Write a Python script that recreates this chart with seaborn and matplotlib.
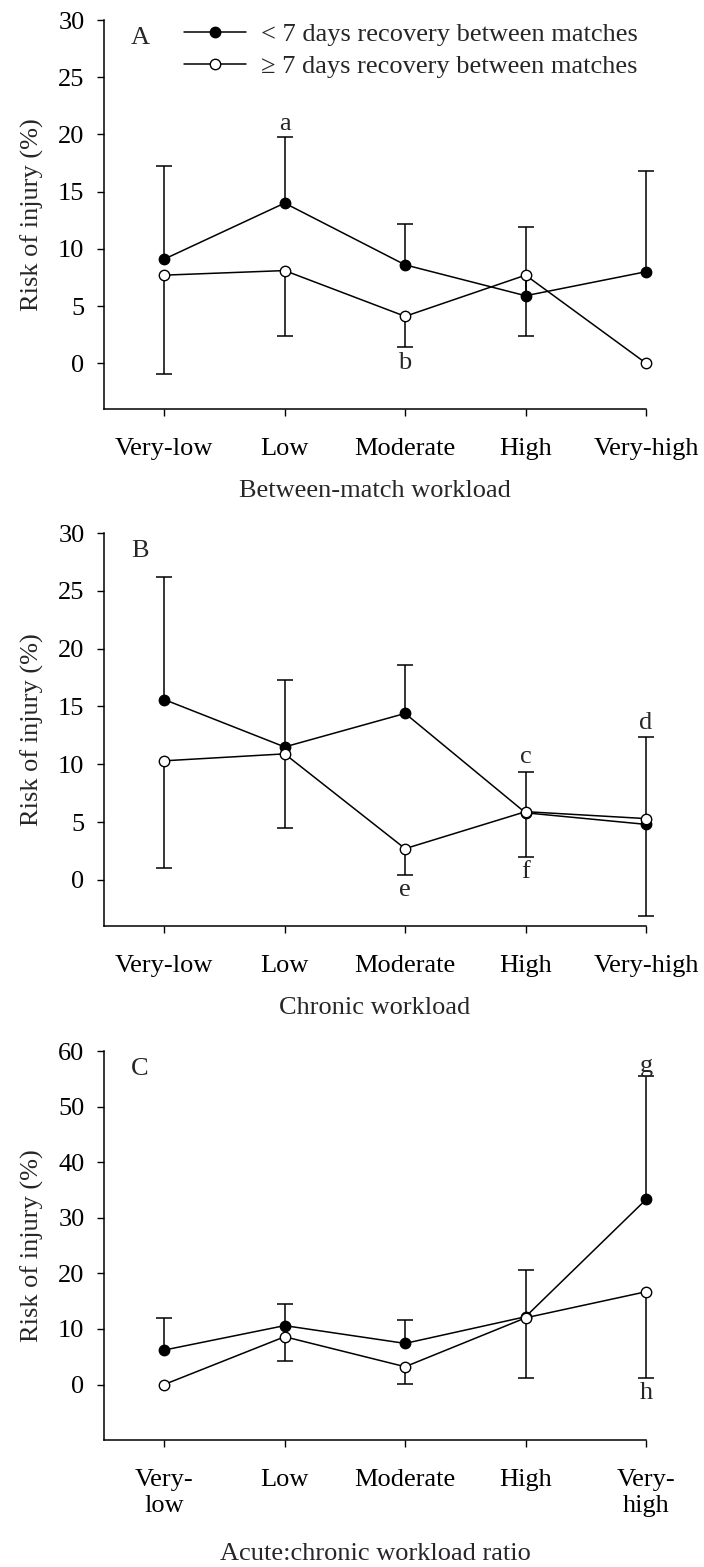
import numpy as np
import pandas as pd
import matplotlib
matplotlib.use('Agg')
import matplotlib.pyplot as plt
import seaborn as sns

levels = ['Very-low', 'Low', 'Moderate', 'High', 'Very-high']
levels_c = ['Very-\nlow', 'Low', 'Moderate', 'High', 'Very-\nhigh']

# A - between-match workload
a_short = [9.1, 14.0, 8.6, 5.9, 8.0]
a_short_up = [17.2, 19.8, 12.2, 11.9, 16.8]
a_long = [7.7, 8.1, 4.1, 7.7, 0.0]
a_long_low = [-0.9, 2.4, 1.4, 2.4, 0.0]

# B - chronic workload
b_short = [15.6, 11.5, 14.4, 5.8, 4.8]
b_short_up = [26.2, 17.3, 18.6, 9.3, 12.4]
b_long = [10.3, 10.9, 2.7, 5.9, 5.3]
b_long_low = [1.0, 4.5, 0.4, 2.0, -3.1]

# C - acute:chronic workload ratio
c_short = [6.2, 10.6, 7.4, 12.2, 33.3]
c_short_up = [12.0, 14.5, 11.7, 20.6, 55.5]
c_long = [0.0, 8.6, 3.2, 12.0, 16.7]
c_long_low = [0.0, 4.3, 0.1, 1.2, 1.2]

# significance letters: (level index, y, letter)
a_letters = [(1, 20.9, 'a'), (2, 0.0, 'b')]
b_letters = [(3, 10.6, 'c'), (4, 13.6, 'd'), (2, -0.9, 'e'), (3, 0.7, 'f')]
c_letters = [(4, 57.4, 'g'), (4, -1.6, 'h')]

sns.set_style('ticks')
plt.rcParams['font.family'] = ['Liberation Serif', 'DejaVu Serif']
plt.rcParams['font.size'] = 19

fig = plt.figure(figsize=(7.04, 15.67), dpi=100)
ax_a = fig.add_axes([0.1477, 0.739, 0.770, 0.2482])
ax_b = fig.add_axes([0.1477, 0.409, 0.770, 0.2508])
ax_c = fig.add_axes([0.1477, 0.081, 0.770, 0.2482])

panels = [
    (ax_a, 'A', a_short, a_short_up, a_long, a_long_low, a_letters,
     levels, 'Between-match workload', (-4, 30), np.arange(0, 31, 5), 14),
    (ax_b, 'B', b_short, b_short_up, b_long, b_long_low, b_letters,
     levels, 'Chronic workload', (-4, 30), np.arange(0, 31, 5), 14),
    (ax_c, 'C', c_short, c_short_up, c_long, c_long_low, c_letters,
     levels_c, 'Acute:chronic workload ratio', (-10, 60), np.arange(0, 61, 10), 19),
]


def one_sided_bars(ax, pos, val, bound):
    # stem from the point to the bound, cap only at the bound
    keep = np.abs(np.asarray(bound) - np.asarray(val)) > 1e-9
    pos = np.asarray(pos)[keep]
    val = np.asarray(val)[keep]
    bound = np.asarray(bound)[keep]
    ax.vlines(pos, np.minimum(val, bound), np.maximum(val, bound),
              color='black', linewidth=1.1, clip_on=False, zorder=1)
    ax.plot(pos, bound, linestyle='none', marker='_', markersize=12,
            markeredgewidth=1.1, color='black', clip_on=False, zorder=1)


for ax, tag, short, short_up, long_, long_low, letters, ticklabs, xlab, ylim, yticks, lpad in panels:
    df = pd.DataFrame({'pos': np.arange(len(ticklabs)), 'short': short,
                       'short_up': short_up, 'long': long_, 'long_low': long_low})

    # error bars: upper for <7 days, lower for >=7 days
    one_sided_bars(ax, df['pos'], df['short'], df['short_up'])
    one_sided_bars(ax, df['pos'], df['long'], df['long_low'])

    sns.lineplot(data=df, x='pos', y='short', ax=ax, color='black', linewidth=1.1,
                 marker='o', markersize=7.5, markerfacecolor='black',
                 markeredgecolor='black', markeredgewidth=1,
                 label='< 7 days recovery between matches', clip_on=False, zorder=3)
    sns.lineplot(data=df, x='pos', y='long', ax=ax, color='black', linewidth=1.1,
                 marker='o', markersize=7.5, markerfacecolor='white',
                 markeredgecolor='black', markeredgewidth=1,
                 label='\u2265 7 days recovery between matches', clip_on=False, zorder=4)

    for i, y, letter in letters:
        ax.text(i, y, letter, ha='center', va='center', fontsize=19)

    ax.text(0.066, 0.955, tag, transform=ax.transAxes, ha='center', va='center', fontsize=19)

    ax.set_xlim(-0.5, 4.0)
    ax.set_ylim(*ylim)
    ax.set_yticks(yticks)
    ax.set_xticks(df['pos'])
    ax.set_xticklabels(ticklabs, linespacing=1.2)
    ax.set_xlabel(xlab, fontsize=19, labelpad=lpad)
    ax.set_ylabel('Risk of injury (%)', fontsize=19, labelpad=10)
    ax.tick_params(axis='both', direction='out', length=5, width=1, color='black',
                   labelsize=19, labelcolor='black')
    ax.tick_params(axis='y', pad=9)
    ax.tick_params(axis='x', pad=16)
    for s in ['left', 'bottom']:
        ax.spines[s].set_linewidth(1.1)
        ax.spines[s].set_color('black')
    sns.despine(ax=ax)

    if tag == 'A':
        ax.legend(loc='upper left', bbox_to_anchor=(0.148, 0.994), frameon=False,
                  handlelength=2.35, handletextpad=0.55, borderpad=0, borderaxespad=0,
                  labelspacing=0.32, fontsize=19)
    else:
        ax.get_legend().remove()

fig.savefig('out.png', dpi=100)
